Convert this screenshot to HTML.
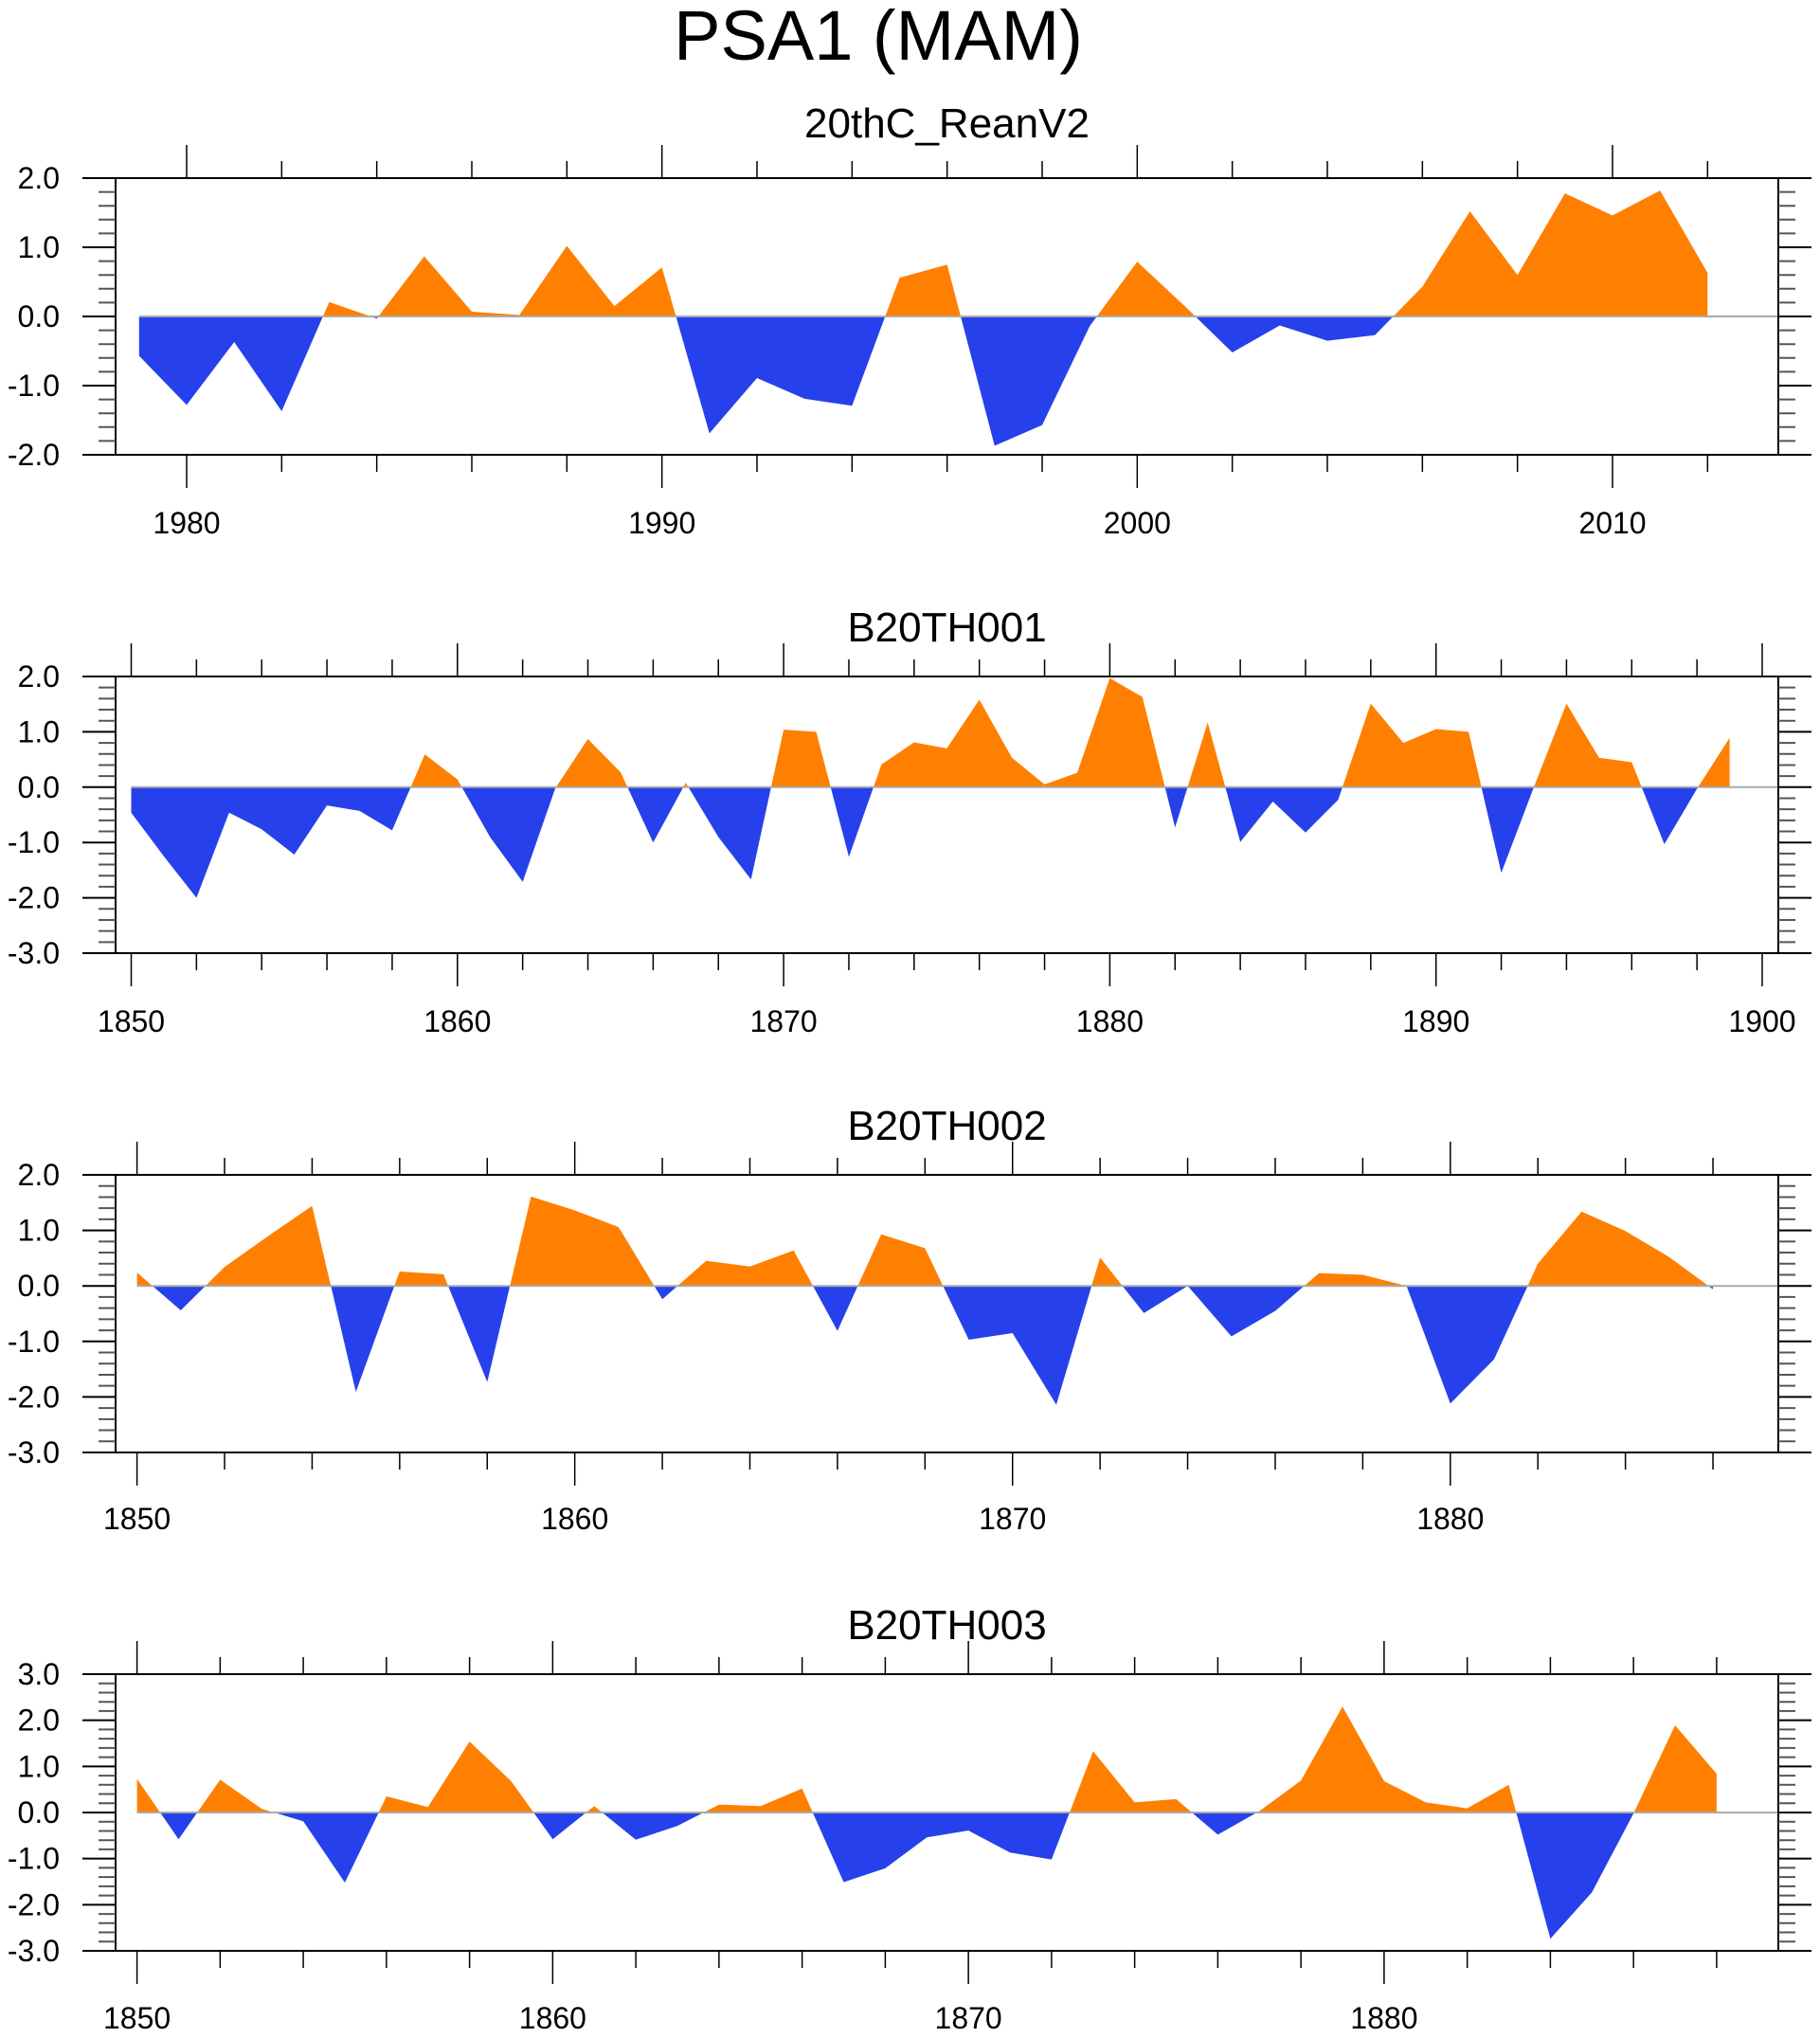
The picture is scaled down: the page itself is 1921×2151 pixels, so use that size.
<!DOCTYPE html>
<html><head><meta charset="utf-8"><style>
html,body{margin:0;padding:0;background:#fff;}
svg{display:block;font-family:"Liberation Sans",sans-serif;}
</style></head><body>
<svg id="chart" width="1921" height="2151" viewBox="0 0 1921 2151" xmlns="http://www.w3.org/2000/svg">
<text x="927" y="63" font-size="74" text-anchor="middle">PSA1 (MAM)</text>
</svg>
<script>
const p1Start = 1979;
const p1Values = [-0.57,-1.28,-0.37,-1.37,0.21,-0.03,0.87,0.07,0.02,1.02,0.15,0.71,-1.69,-0.89,-1.19,-1.29,0.56,0.75,-1.87,-1.57,-0.14,0.79,0.15,-0.52,-0.13,-0.35,-0.27,0.43,1.52,0.60,1.78,1.46,1.82,0.63];
const p2Start = 1850;
const p2Values = [-0.46,-1.25,-2.0,-0.46,-0.76,-1.22,-0.33,-0.43,-0.78,0.59,0.14,-0.9,-1.71,-0.02,0.87,0.27,-1.0,0.08,-0.9,-1.67,1.04,1.0,-1.26,0.41,0.81,0.7,1.58,0.53,0.05,0.26,1.97,1.63,-0.73,1.17,-0.99,-0.26,-0.82,-0.23,1.51,0.8,1.05,1.0,-1.55,0.0,1.51,0.53,0.45,-1.03,-0.03,0.89];
const p3Start = 1850;
const p3Values = [0.24,-0.44,0.34,0.9,1.44,-1.91,0.26,0.21,-1.73,1.61,1.36,1.06,-0.24,0.45,0.35,0.64,-0.81,0.93,0.68,-0.97,-0.85,-2.14,0.51,-0.49,0.0,-0.91,-0.45,0.23,0.2,0.0,-2.12,-1.32,0.4,1.34,0.99,0.52,-0.06];
const p4Start = 1850;
const p4Values = [0.73,-0.58,0.71,0.08,-0.19,-1.52,0.35,0.12,1.54,0.68,-0.58,0.14,-0.59,-0.29,0.17,0.14,0.52,-1.51,-1.21,-0.54,-0.39,-0.87,-1.02,1.33,0.22,0.29,-0.48,0.03,0.69,2.3,0.68,0.22,0.09,0.6,-2.74,-1.73,-0.02,1.89,0.84];
const panelTitles = ["20thC_ReanV2","B20TH001","B20TH002","B20TH003"];
const p1YTicks = [-2,-1,0,1,2];
const p2YTicks = [-3,-2,-1,0,1,2];
const p3YTicks = [-3,-2,-1,0,1,2];
const p4YTicks = [-3,-2,-1,0,1,2,3];

const NS = "http://www.w3.org/2000/svg";
const svg = document.getElementById('chart');
function mk(tag, attrs, parent){
  const e = document.createElementNS(NS, tag);
  for (const k in attrs) e.setAttribute(k, attrs[k]);
  (parent||svg).appendChild(e);
  return e;
}
const L = 122, R = 1877;
function panel(idx, start, values, yTicks, top, bot, refYear, refX, refYear2, refX2, titleY, labY, xMajor){
  const g = mk('g', {});
  
  
  const ymin = yTicks[0], ymax = yTicks[yTicks.length-1];
  const ys = v => top + (ymax - v) / (ymax - ymin) * (bot - top);
  const pxy = (refX2 - refX) / (refYear2 - refYear);
  const xs = yr => refX + (yr - refYear) * pxy;
  const zy = ys(0);
  // clip paths
  const defs = mk('defs', {}, g);
  const cpA = mk('clipPath', {id:'ca'+idx}, defs); mk('rect', {x:L, y:top, width:R-L, height:zy-top}, cpA);
  const cpB = mk('clipPath', {id:'cb'+idx}, defs); mk('rect', {x:L, y:zy, width:R-L, height:bot-zy}, cpB);
  let pts = xs(start).toFixed(1) + ',' + zy.toFixed(1) + ' ';
  values.forEach((v,i) => { pts += xs(start+i).toFixed(1) + ',' + ys(v).toFixed(1) + ' '; });
  pts += xs(start+values.length-1).toFixed(1) + ',' + zy.toFixed(1);
  const pos = mk('polygon', {points:pts, fill:'#ff8000', 'clip-path':'url(#ca'+idx+')'}, g);
  
  
  const neg = mk('polygon', {points:pts, fill:'#2641eb', 'clip-path':'url(#cb'+idx+')'}, g);
  
  
  const zl = mk('line', {x1:xs(start), x2:R, y1:zy, y2:zy, stroke:'#aaaaaa', 'stroke-width':2}, g);
  
  
  // frame
  const fr = mk('rect', {x:L, y:top, width:R-L, height:bot-top, fill:'none', stroke:'#000', 'stroke-width':2}, g);
  
  
  // y ticks
  for (let v = ymin; v <= ymax + 1e-6; v += 0.2) {
    const y = ys(v);
    const major = Math.abs(v - Math.round(v)) < 1e-6;
    const len = major ? 35 : 18;
    mk('line', {x1:L-len, x2:L, y1:y, y2:y, stroke:major?'#000':'#555', 'stroke-width':2}, g);
    mk('line', {x1:R, x2:R+len, y1:y, y2:y, stroke:major?'#000':'#555', 'stroke-width':2}, g);
  }
  yTicks.forEach(v => {
    const t = mk('text', {x:63, y:ys(v)+11, 'font-size':32, 'text-anchor':'end'}, g);
    t.textContent = v.toFixed(1);
    
    
  });
  // x ticks
  const y0 = Math.ceil((L - refX)/pxy + refYear), y1 = Math.floor((R - refX)/pxy + refYear);
  for (let yr = y0; yr <= y1; yr++) {
    if (yr % 2 !== 0) continue;
    const x = xs(yr);
    const major = yr % xMajor === 0;
    const len = major ? 35 : 18;
    mk('line', {x1:x, x2:x, y1:top-len, y2:top, stroke:'#000', 'stroke-width':1.5}, g);
    mk('line', {x1:x, x2:x, y1:bot, y2:bot+len, stroke:'#000', 'stroke-width':1.5}, g);
    if (major) {
      const t = mk('text', {x:x, y:labY, 'font-size':32, 'text-anchor':'middle'}, g);
      t.textContent = yr;
      
      
    }
  }
  const tt = mk('text', {x:(L+R)/2, y:titleY, 'font-size':44, 'text-anchor':'middle'}, g);
  tt.textContent = panelTitles[idx];
  
  
}
panel(0, p1Start, p1Values, p1YTicks, 188, 480, 1980, 197, 2010, 1702, 145, 563, 10);
panel(1, p2Start, p2Values, p2YTicks, 714, 1006, 1850, 138.5, 1900, 1860, 677, 1089, 10);
panel(2, p3Start, p3Values, p3YTicks, 1240, 1533, 1850, 144.6, 1880, 1530.8, 1203, 1614, 10);
panel(3, p4Start, p4Values, p4YTicks, 1767, 2059, 1850, 144.6, 1880, 1460.9, 1730, 2141, 10);
</script>
</body></html>
